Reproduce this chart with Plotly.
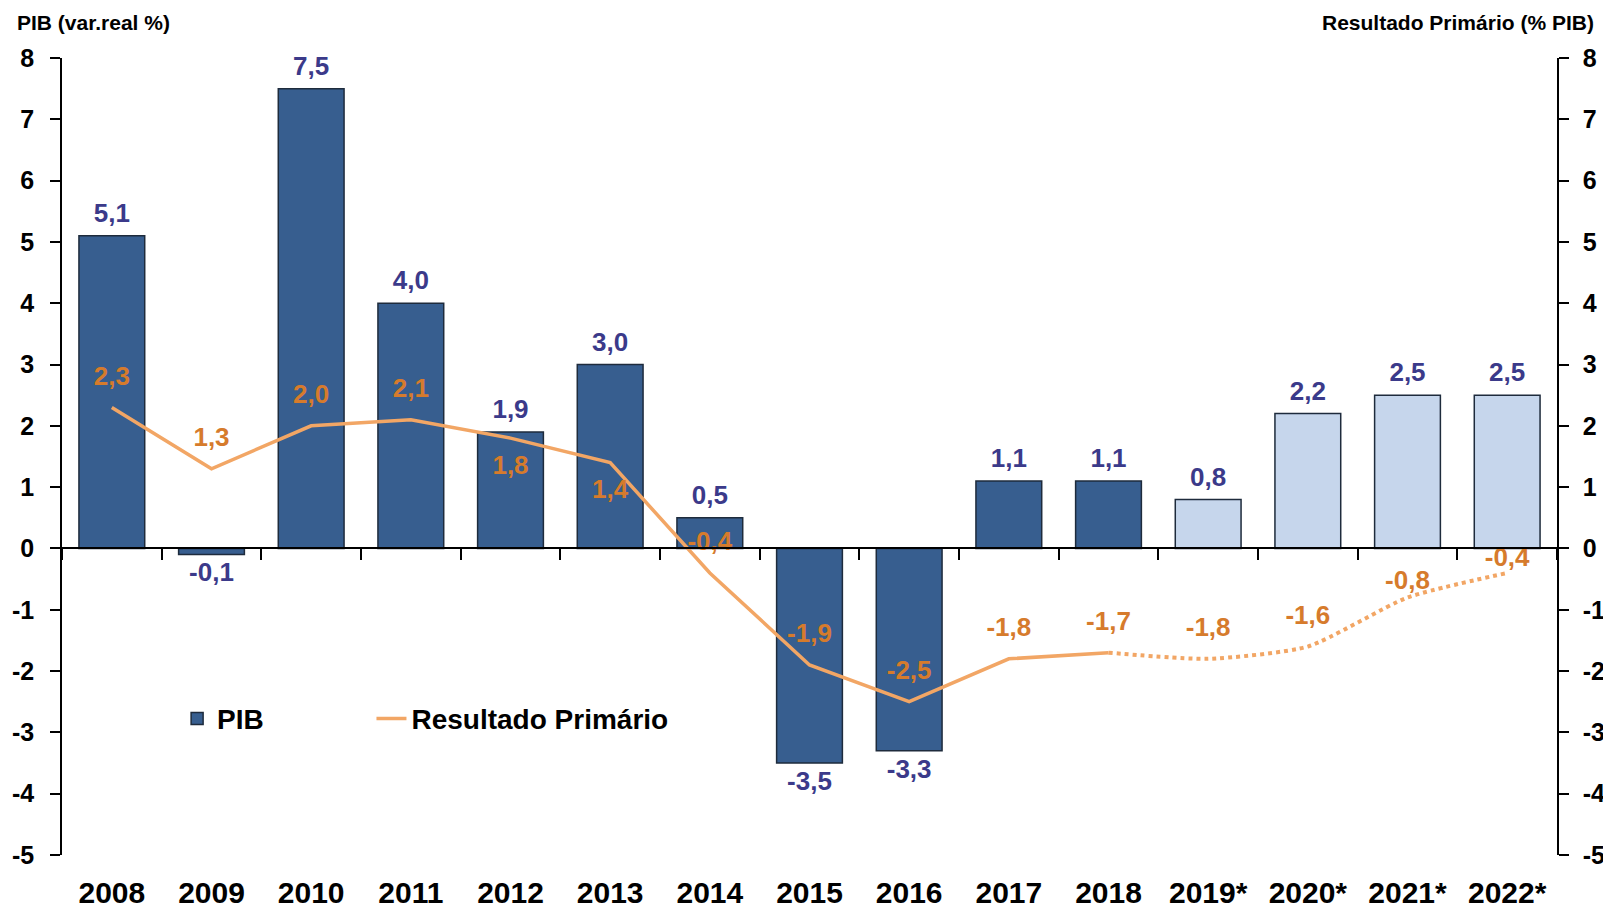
import plotly.graph_objects as go

years = ["2008", "2009", "2010", "2011", "2012", "2013", "2014", "2015",
         "2016", "2017", "2018", "2019*", "2020*", "2021*", "2022*"]
pib = [5.1, -0.1, 7.5, 4.0, 1.9, 3.0, 0.5, -3.5, -3.3, 1.1, 1.1, 0.8, 2.2, 2.5, 2.5]
primario = [2.3, 1.3, 2.0, 2.1, 1.8, 1.4, -0.4, -1.9, -2.5, -1.8, -1.7, -1.8, -1.6, -0.8, -0.4]
projected = [False] * 11 + [True] * 4
y_ticks = [-5, -4, -3, -2, -1, 0, 1, 2, 3, 4, 5, 6, 7, 8]
y_tick_labels = ["-5", "-4", "-3", "-2", "-1", "0", "1", "2", "3", "4", "5", "6", "7", "8"]

prim_label_pos = ["top center"] * 4 + ["bottom center"] * 2 + ["top center"] * 9
pib_label_pos = ["top center" if v >= 0 else "bottom center" for v in pib]

FONT = "Liberation Sans, Arial, sans-serif"
DARK = "#375E8F"
LIGHT = "#C6D6EC"
BAR_TXT = "#3B3A8A"
LINE_C = "#F2A665"
LINE_TXT = "#D67B2C"

bar_colors = [LIGHT if p else DARK for p in projected]
# label offset (invisible marker size) per line label: last two sit closer to the line
prim_label_gap = [24] * 13 + [2, 0]
NOMARK = dict(color="rgba(0,0,0,0)", line=dict(width=0))

fig = go.Figure()

fig.add_trace(go.Bar(
    x=years, y=pib, name="PIB",
    marker=dict(color=bar_colors, line=dict(color="#1E2B3C", width=1.5)),
    showlegend=True, legend="legend", hoverinfo="x+y",
))
# bar value labels
fig.add_trace(go.Scatter(
    x=years, y=pib, mode="markers+text",
    marker=dict(size=10, **NOMARK),
    texttemplate="%{y:.1f}", textposition=pib_label_pos,
    textfont=dict(color=BAR_TXT, size=26, family=FONT, weight="bold"),
    showlegend=False, cliponaxis=False, hoverinfo="skip",
))

n_hist = projected.index(True)
fig.add_trace(go.Scatter(
    x=years[:n_hist], y=primario[:n_hist], name="Resultado Primário",
    mode="lines", line=dict(color=LINE_C, width=3.5),
    yaxis="y2", showlegend=True, legend="legend2",
))
fig.add_trace(go.Scatter(
    x=years[n_hist - 1:], y=primario[n_hist - 1:], name="Resultado Primário (proj.)",
    mode="lines", line=dict(color=LINE_C, width=4, dash="dot", shape="spline", smoothing=0.6),
    yaxis="y2", showlegend=False,
))
fig.add_trace(go.Scatter(
    x=years, y=primario, mode="markers+text",
    marker=dict(size=prim_label_gap, **NOMARK),
    texttemplate="%{y:.1f}", textposition=prim_label_pos,
    textfont=dict(color=LINE_TXT, size=26, family=FONT, weight="bold"),
    yaxis="y2", showlegend=False, cliponaxis=False, hoverinfo="skip",
))
# invisible trace that carries the zero-line category axis
fig.add_trace(go.Scatter(
    x=years, y=[0] * len(years), xaxis="x2", mode="markers",
    marker=dict(size=1, **NOMARK), showlegend=False, hoverinfo="skip",
))

tick_font = dict(size=25, family=FONT, color="black", weight="bold")

fig.update_layout(
    width=1603, height=903,
    margin=dict(l=54, r=54, t=50, b=56, autoexpand=False),
    plot_bgcolor="white", paper_bgcolor="white",
    separators=",.",
    font=dict(family=FONT, color="black"),
    bargap=0.34,
    xaxis=dict(
        type="category", categoryorder="array", categoryarray=years,
        range=[-0.5, len(years) - 0.5], automargin=False, tickangle=0,
        showline=False, ticks="", showgrid=False,
        tickfont=dict(size=30, family=FONT, color="black", weight="bold"),
        ticklabelstandoff=17,
    ),
    xaxis2=dict(
        type="category", categoryorder="array", categoryarray=years,
        range=[-0.5, len(years) - 0.5], automargin=False,
        overlaying="x", anchor="free", position=5 / 13,
        showline=True, linecolor="black", linewidth=1.5,
        ticks="outside", tickson="boundaries", ticklen=11, tickcolor="black",
        tickwidth=1.5, showticklabels=False, showgrid=False,
    ),
    yaxis=dict(
        range=[-5, 8], tickmode="array", tickvals=y_ticks, ticktext=y_tick_labels,
        showgrid=False, zeroline=False, automargin=False,
        showline=True, linecolor="black", linewidth=1.5,
        ticks="outside", ticklen=10, tickwidth=1.5, tickcolor="black",
        tickfont=tick_font, ticklabelstandoff=11,
    ),
    yaxis2=dict(
        range=[-5, 8], tickmode="array", tickvals=y_ticks, ticktext=y_tick_labels,
        showgrid=False, zeroline=False, automargin=False,
        overlaying="y", side="right",
        showline=True, linecolor="black", linewidth=1.5,
        ticks="outside", ticklen=10, tickwidth=1.5, tickcolor="black",
        tickfont=tick_font, ticklabelstandoff=9,
    ),
    legend=dict(
        orientation="h", x=0.077, y=0.171, xanchor="left", yanchor="middle",
        font=dict(size=28, family=FONT, color="black", weight="bold"),
        bgcolor="rgba(0,0,0,0)",
    ),
    legend2=dict(
        orientation="h", x=0.207, y=0.171, xanchor="left", yanchor="middle",
        font=dict(size=28, family=FONT, color="black", weight="bold"),
        bgcolor="rgba(0,0,0,0)",
    ),
    annotations=[
        dict(text="PIB (var.real %)", xref="paper", yref="paper",
             x=-0.0314, y=1.044, xanchor="left", yanchor="middle", showarrow=False,
             font=dict(size=21, family=FONT, color="black", weight="bold")),
        dict(text="Resultado Primário (% PIB)", xref="paper", yref="paper",
             x=1.026, y=1.044, xanchor="right", yanchor="middle", showarrow=False,
             font=dict(size=21, family=FONT, color="black", weight="bold")),
    ],
)

fig.write_html("out.html")
